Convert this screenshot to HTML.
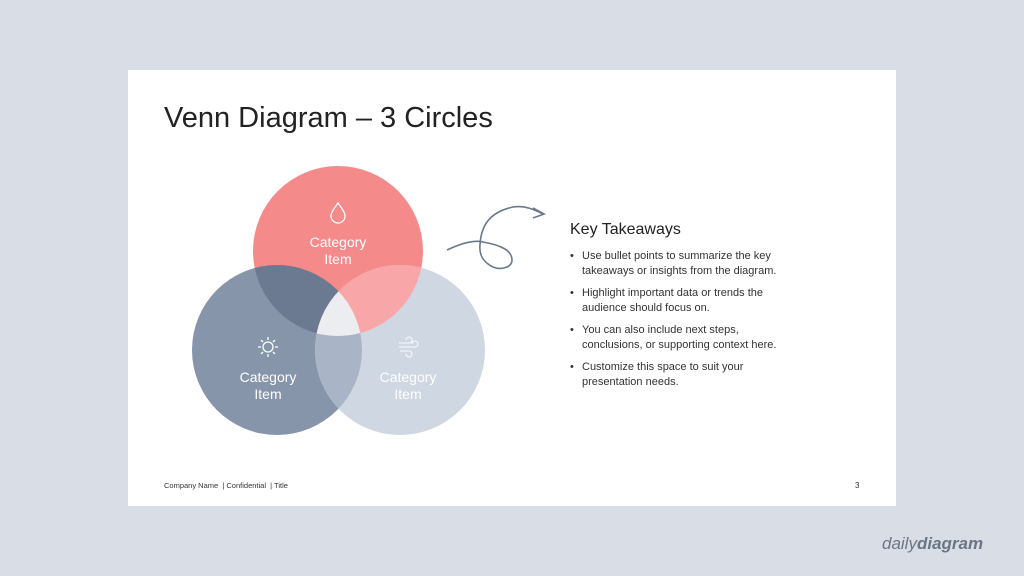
<!DOCTYPE html>
<html><head><style>
body{margin:0;width:1024px;height:576px;background:#d9dee6;position:relative;font-family:"Liberation Sans",sans-serif;overflow:hidden}
.slide{position:absolute;left:128px;top:70px;width:768px;height:436px;background:#fff}
.t{position:absolute;color:#222}
ul{margin:0;padding:0;list-style:none}
li{position:relative;padding-left:12px;margin-bottom:7px;font-size:11px;line-height:15px;color:#333}
li:before{content:"•";position:absolute;left:0}
</style></head><body>
<div class="slide"></div>
<div class="t" style="left:164px;top:102px;font-size:29px;color:#222">Venn Diagram – 3 Circles</div>
<svg width="1024" height="576" style="position:absolute;left:0;top:0">
<defs>
<clipPath id="cr"><circle cx="338" cy="251" r="85"/></clipPath>
<clipPath id="cl"><circle cx="277" cy="350" r="85"/></clipPath>
<clipPath id="cg"><circle cx="400" cy="350" r="85"/></clipPath>
</defs>
<circle cx="338" cy="251" r="85" fill="#f48a8a"/>
<circle cx="277" cy="350" r="85" fill="#8795aa"/>
<circle cx="400" cy="350" r="85" fill="#ced7e2"/>
<g clip-path="url(#cl)"><circle cx="338" cy="251" r="85" fill="#6b7a90"/><circle cx="400" cy="350" r="85" fill="#a9b4c6"/></g>
<g clip-path="url(#cg)"><circle cx="338" cy="251" r="85" fill="#f8a6a8"/></g>
<g clip-path="url(#cg)"><g clip-path="url(#cl)"><circle cx="338" cy="251" r="85" fill="#ebedf0"/></g></g>
<g fill="none" stroke="#fff" stroke-width="1.3">
<path d="M338 203 C333 210 331 213 331 216 A7 7 0 0 0 345 216 C345 213 343 210 338 203Z"/>
<circle cx="268" cy="347" r="5"/>
<path d="M268 337v3M268 354v3M258 347h3M275 347h3M261 340l2 2M273 352l2 2M261 354l2-2M273 342l2-2"/>
<path d="M399 343h10a3 3 0 1 0-3-3M399 347h16a3 3 0 1 0-3-3M400 351h9a3 3 0 1 1-3 3" stroke="#f2f4f7"/>
</g>
<g font-size="14" text-anchor="middle" fill="#fff">
<text x="338" y="247">Category</text><text x="338" y="264">Item</text>
<text x="268" y="382">Category</text><text x="268" y="399">Item</text>
<text x="408" y="382">Category</text><text x="408" y="399">Item</text>
</g>
<path d="M447 250 C462 243 475 240 483 242 C500 245 512 250 512 260 C512 268 500 270 493 267 C483 262 479 255 480 245 C481 225 490 212 513 207 C525 205 535 210 543 214" fill="none" stroke="#6b778a" stroke-width="1.6"/>
<path d="M533 208 L544 214 L533 218" fill="none" stroke="#6b778a" stroke-width="1.6"/>
</svg>
<div class="t" style="left:570px;top:221px;font-size:16px;color:#222">Key Takeaways</div>
<ul style="position:absolute;left:570px;top:249px;width:230px">
<li>Use bullet points to summarize the key takeaways or insights from the diagram.</li>
<li>Highlight important data or trends the audience should focus on.</li>
<li>You can also include next steps, conclusions, or supporting context here.</li>
<li>Customize this space to suit your presentation needs.</li>
</ul>
<div class="t" style="left:164px;top:481px;font-size:7.5px;color:#333">Company Name &nbsp;| Confidential &nbsp;| Title</div>
<div class="t" style="left:855px;top:481px;font-size:8px;color:#333">3</div>
<div class="t" style="left:882px;top:534px;font-size:17px;color:#6b7585;font-style:italic">daily<b>diagram</b></div>
</body></html>
